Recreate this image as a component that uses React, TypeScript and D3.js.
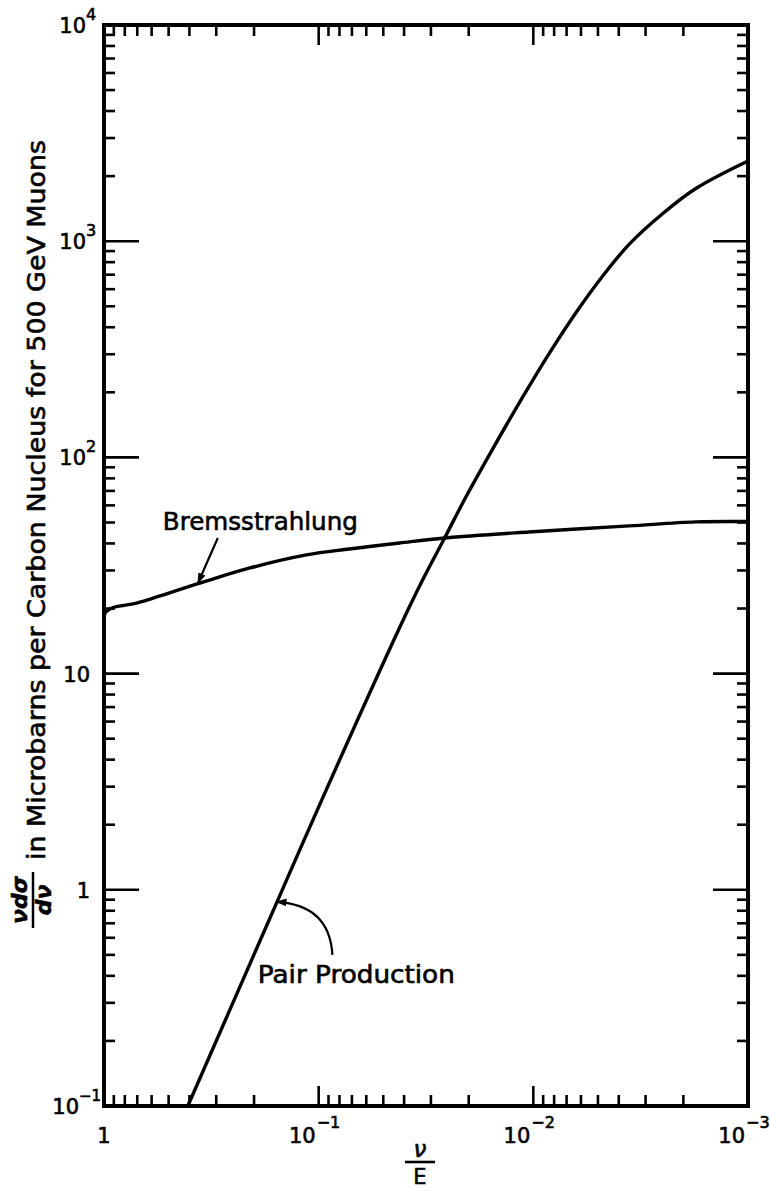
import React from 'react';
import * as d3 from 'd3';

// values (nu/E, microbarns)
const pairV = [0.407, 0.157, 0.0968, 0.042, 0.0328, 0.0259, 0.0205, 0.0155, 0.01125, 0.00843, 0.00624, 0.00478, 0.00358, 0.00251, 0.00175, 0.001];
const pairSigma = [0.1, 0.87, 2.6, 16.3, 27.1, 42.4, 66.3, 109, 189, 303, 477, 685, 967, 1336, 1753, 2350];

const bremsV = [1, 0.99, 0.96, 0.908, 0.733, 0.68, 0.358, 0.209, 0.114, 0.072, 0.042, 0.0259, 0.0105, 0.00358, 0.00175, 0.001];
const bremsSigma = [16.6, 19.0, 19.6, 20.2, 21.0, 21.4, 26.2, 30.8, 35.4, 37.7, 40.2, 42.4, 45.2, 48.2, 50.3, 50.5];

const xDecades = [1, 0.1, 0.01, 0.001];
const xLabelBase = ['1', '10', '10', '10'];
const xLabelExp = ['', '−1', '−2', '−3'];

const yDecades = [0.1, 1, 10, 100, 1000, 10000];
const yLabelBase = ['10', '1', '10', '10', '10', '10'];
const yLabelExp = ['−1', '', '', '2', '3', '4'];

// annotation anchors in data units: [nu/E, sigma]
const bremsArrow = [[0.295, 42.4], [0.33, 33], [0.365, 26.2]];
const bremsLabelAt = [0.532, 46.1];
const pairArrow = [[0.0863, 0.5], [0.0889, 0.851], [0.157, 0.88]];
const pairLabelAt = [0.192, 0.37];

const W = 770;
const H = 1191;
const font = '"DejaVu Sans", "Noto Sans", sans-serif';

export default function App() {
  const x = d3.scaleLog().domain([1, 1e-3]).range([104, 748]);
  const y = d3.scaleLog().domain([0.1, 1e4]).range([1106, 25]);
  const [x0, x1] = x.range();
  const [y0, y1] = y.range();

  const line = d3.line<[number, number]>()
    .x(d => x(d[0]))
    .y(d => y(d[1]))
    .curve(d3.curveCatmullRom.alpha(0.5));

  const pairPath = line(pairV.map((v, i) => [v, pairSigma[i]] as [number, number]));
  const bremsPath = line(bremsV.map((v, i) => [v, bremsSigma[i]] as [number, number]));

  // minor ticks 2..9 in every decade
  const xMinor: number[] = [];
  for (let k = -3; k < 0; k++) for (let m = 2; m <= 9; m++) xMinor.push(m * Math.pow(10, k));
  const yMinor: number[] = [];
  for (let k = -1; k < 4; k++) for (let m = 2; m <= 9; m++) yMinor.push(m * Math.pow(10, k));

  const quad = (pts: number[][]) => {
    const p = pts.map(d => [x(d[0]), y(d[1])]);
    return `M${p[0][0]},${p[0][1]} Q${p[1][0]},${p[1][1]} ${p[2][0]},${p[2][1]}`;
  };

  const tick = { stroke: '#000', strokeWidth: 2.6 };
  const ink = { fill: '#000', stroke: '#000', strokeWidth: 0.6 };

  return (
    <>
      <style>{`body{margin:0}`}</style>
      <svg width={W} height={H} style={{ display: 'block', background: '#fff' }} fontFamily={font}>
        <defs>
          <marker id="ah" viewBox="0 0 10 10" refX="9" refY="5" markerWidth="5" markerHeight="5" orient="auto">
            <path d="M0,1.5 L10,5 L0,8.5 z" fill="#000" />
          </marker>
        </defs>

        {/* minor ticks */}
        {xMinor.map(v => (
          <g key={'xm' + v}>
            <line x1={x(v)} x2={x(v)} y1={y0} y2={y0 - 11} {...tick} />
            <line x1={x(v)} x2={x(v)} y1={y1} y2={y1 + 11} {...tick} />
          </g>
        ))}
        {yMinor.map(v => (
          <g key={'ym' + v}>
            <line x1={x0} x2={x0 + 11} y1={y(v)} y2={y(v)} {...tick} />
            <line x1={x1} x2={x1 - 11} y1={y(v)} y2={y(v)} {...tick} />
          </g>
        ))}
        {/* major ticks */}
        {xDecades.map(v => (
          <g key={'xM' + v}>
            <line x1={x(v)} x2={x(v)} y1={y0} y2={y0 - 20} {...tick} />
            <line x1={x(v)} x2={x(v)} y1={y1} y2={y1 + 20} {...tick} />
          </g>
        ))}
        {yDecades.map(v => (
          <g key={'yM' + v}>
            <line x1={x0} x2={x0 + 35} y1={y(v)} y2={y(v)} {...tick} />
            <line x1={x1} x2={x1 - 35} y1={y(v)} y2={y(v)} {...tick} />
          </g>
        ))}

        {/* frame */}
        <rect x={x0} y={y1} width={x1 - x0} height={y0 - y1} fill="none" stroke="#000" strokeWidth={4} />

        {/* curves */}
        <path d={bremsPath || ''} fill="none" stroke="#000" strokeWidth={3.4} strokeLinejoin="round" />
        <path d={pairPath || ''} fill="none" stroke="#000" strokeWidth={3.4} strokeLinejoin="round" />

        {/* y tick labels */}
        {yDecades.map((v, i) => {
          if (!yLabelExp[i]) {
            return <text key={'yl' + v} x={90} y={y(v) + 8} fontSize={21} textAnchor="end" {...ink}>{yLabelBase[i]}</text>;
          }
          const neg = yLabelExp[i].startsWith('−');
          return (
            <g key={'yl' + v} {...ink}>
              <text x={neg ? 79 : 86} y={y(v) + 8} fontSize={21} textAnchor="end">{yLabelBase[i]}</text>
              <text x={neg ? 79 : 86} y={y(v) - 5} fontSize={neg ? 15 : 16}>{yLabelExp[i]}</text>
            </g>
          );
        })}

        {/* x tick labels */}
        {xDecades.map((v, i) => xLabelExp[i] ? (
          <g key={'xl' + v} {...ink}>
            <text x={x(v) - 3} y={1143} fontSize={21} textAnchor="end">{xLabelBase[i]}</text>
            <text x={x(v) - 2} y={1128} fontSize={16}>{xLabelExp[i]}</text>
          </g>
        ) : (
          <text key={'xl' + v} x={x(v)} y={1143} fontSize={21} textAnchor="middle" {...ink}>{xLabelBase[i]}</text>
        ))}

        {/* x title: nu / E */}
        <text x={420} y={1157} fontSize={23} textAnchor="middle" fontStyle="italic" {...ink}>ν</text>
        <line x1={405} x2={435} y1={1162} y2={1162} stroke="#000" strokeWidth={2.6} />
        <text x={420} y={1184} fontSize={21} textAnchor="middle" {...ink}>E</text>

        {/* y title */}
        <g transform="translate(33,900) rotate(-90)" {...ink}>
          <text x={0} y={-6} fontSize={22} textAnchor="middle" fontStyle="italic" fontWeight="bold">νdσ</text>
          <line x1={-28} x2={28} y1={0} y2={0} stroke="#000" strokeWidth={2.5} />
          <text x={0} y={18} fontSize={22} textAnchor="middle" fontStyle="italic" fontWeight="bold">dν</text>
        </g>
        <text transform="translate(45,860) rotate(-90)" fontSize={24} textLength={720} lengthAdjust="spacingAndGlyphs" {...ink}>
          in Microbarns per Carbon Nucleus for 500 GeV Muons
        </text>

        {/* annotations */}
        <text x={x(bremsLabelAt[0])} y={y(bremsLabelAt[1])} fontSize={24} textLength={195} lengthAdjust="spacingAndGlyphs" {...ink}>Bremsstrahlung</text>
        <path d={quad(bremsArrow)} fill="none" stroke="#000" strokeWidth={2.2} markerEnd="url(#ah)" />

        <text x={x(pairLabelAt[0])} y={y(pairLabelAt[1])} fontSize={24} textLength={197} lengthAdjust="spacingAndGlyphs" {...ink}>Pair Production</text>
        <path d={quad(pairArrow)} fill="none" stroke="#000" strokeWidth={2.2} markerEnd="url(#ah)" />
      </svg>
    </>
  );
}
